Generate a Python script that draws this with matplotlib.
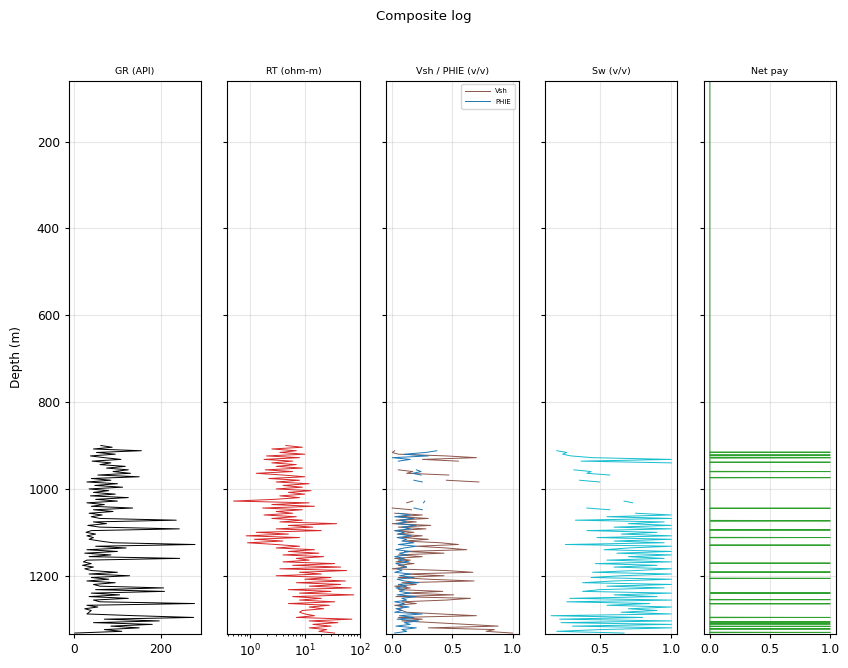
import numpy as np
import matplotlib.pyplot as plt

nan = np.nan

# depth samples of the logged interval (m), every 4 m from 900 to 1332
depth = np.arange(900, 1336, 4)

gr = [62, 88, 45, 155, 52, 95, 38, 70, 108, 42,
      85, 60, 118, 75, 125, 90, 130, 55, 150, 40,
      85, 30, 100, 48, 112, 35, 80, 45, 95, 38,
      125, 50, 100, 30, 70, 40, 135, 45, 90, 35,
      65, 40, 60, 235, 45, 75, 32, 60, 242, 40,
      28, 50, 30, 45, 35, 60, 90, 278, 50, 120,
      30, 100, 25, 85, 35, 243, 30, 22, 40, 20,
      45, 25, 40, 100, 35, 128, 40, 80, 30, 95,
      45, 60, 206, 50, 208, 40, 105, 35, 125, 45,
      60, 277, 30, 55, 25, 40, 35, 30, 140, 275,
      70, 196, 45, 180, 85, 150, 70, 110, 2]

rt = [4.5, 9, 2.5, 7, 3.5, 10, 2, 8, 1.8, 6,
      2.5, 7, 3, 9, 1.9, 6, 1.3, 4, 10, 2.2,
      8, 3, 12, 4, 9, 3, 13, 5, 10, 3.5,
      8, 2.8, 0.5, 12, 2.5, 15, 1.7, 9, 3, 6,
      1.8, 7, 2.5, 9, 3.5, 38, 5, 14, 3, 20,
      1.3, 5, 0.85, 8, 1.2, 4, 0.9, 3, 8, 3,
      15, 5, 18, 4, 22, 7, 12, 4, 35, 6,
      45, 3.5, 58, 8, 20, 3, 30, 10, 55, 7,
      45, 12, 70, 5, 30, 8, 78, 6, 20, 8,
      35, 5, 28, 12, 22, 9, 8, 10, 15, 7,
      72, 12, 40, 14, 30, 12, 25, 18, 35]

vsh = [nan, nan, nan, 0.02, 0.0, 0.05, 0.45, 0.70, 0.25, 0.55,
       nan, nan, nan, nan, 0.05, 0.17, 0.12, 0.47, nan, nan,
       0.45, 0.72, nan, nan, nan, nan, nan, nan, nan, nan,
       nan, nan, 0.17, 0.12, nan, nan, 0.0, 0.16, nan, 0.02,
       0.25, 0.05, 0.3, 0.03, 0.2, 0.0, 0.32, 0.05, 0.28, 0.02,
       0.18, 0.04, 0.25, 0.08, 0.3, 0.1, 0.4, 0.55, 0.2, 0.45,
       0.62, 0.1, 0.43, 0.05, 0.25, 0.02, 0.15, 0.03, 0.18, 0.05,
       0.12, 0.0, 0.45, 0.67, 0.1, 0.43, 0.05, 0.3, 0.68, 0.08,
       0.2, 0.02, 0.15, 0.05, 0.42, 0.1, 0.51, 0.03, 0.65, 0.45,
       0.08, 0.2, 0.02, 0.1, 0.05, 0.08, 0.12, 0.4, 0.7, 0.05,
       0.25, 0.08, 0.35, 0.62, 0.88, 0.3, 0.85, 0.78, 1.0]

phie = [nan, nan, nan, 0.37, 0.28, 0.1, 0.3, 0.0, 0.15, 0.05,
        nan, nan, nan, nan, 0.2, 0.24, 0.17, 0.24, nan, nan,
        0.18, 0.25, nan, nan, nan, nan, nan, nan, nan, nan,
        nan, nan, 0.27, 0.26, nan, nan, 0.18, 0.25, nan, 0.05,
        0.15, 0.02, 0.18, 0.06, 0.12, 0.03, 0.2, 0.08, 0.15, 0.02,
        0.1, 0.05, 0.16, 0.04, 0.12, 0.08, 0.18, 0.05, 0.2, 0.1,
        0.03, 0.15, 0.06, 0.12, 0.02, 0.1, 0.05, 0.14, 0.03, 0.09,
        0.12, 0.04, 0.08, 0.02, 0.15, 0.06, 0.18, 0.04, 0.1, 0.22,
        0.05, 0.12, 0.03, 0.1, 0.06, 0.15, 0.04, 0.2, 0.08, 0.12,
        0.02, 0.1, 0.05, 0.14, 0.03, 0.08, 0.02, 0.25, 0.06, 0.18,
        0.04, 0.22, 0.1, 0.15, 0.03, 0.2, 0.08, 0.12, 0.02]

sw = [nan, nan, nan, 0.20, 0.27, 0.24, 0.30, 0.45, 1.0, 0.37,
      1.0, nan, nan, nan, 0.32, 0.44, 0.41, 0.57, nan, nan,
      0.36, 0.50, nan, nan, nan, nan, nan, nan, nan, nan,
      nan, nan, 0.67, 0.73, nan, nan, 0.41, 0.57, nan, 0.75,
      1.0, 0.55, 1.0, 0.33, 0.95, 0.7, 1.0, 0.6, 1.0, 0.41,
      0.9, 0.65, 1.0, 0.48, 1.0, 0.6, 0.95, 0.26, 1.0, 0.7,
      0.53, 1.0, 0.62, 1.0, 0.7, 0.95, 0.55, 1.0, 0.47, 0.9,
      0.6, 1.0, 0.75, 0.45, 1.0, 0.65, 0.44, 1.0, 0.6, 0.38,
      1.0, 0.55, 0.95, 0.5, 0.38, 1.0, 0.6, 0.9, 0.29, 1.0,
      0.27, 0.85, 0.55, 1.0, 0.7, 0.9, 0.65, 1.0, 0.16, 0.8,
      0.22, 1.0, 0.23, 1.0, 0.31, 1.0, 0.5, 0.2, 0.67]

# depths (m) flagged as net pay
pay_depths = [915.5, 922, 927.5, 928, 928.5, 938.5, 960, 974,
              1044.5, 1073, 1073.5, 1074, 1094.5, 1112, 1129.5,
              1171, 1191.5, 1206, 1239, 1239.5, 1240, 1240.5,
              1255, 1264.5, 1296, 1306.5, 1311, 1316.5, 1322.5, 1330.5]

# net pay flag over the whole well, 0.5 m sampling
pay_grid = np.arange(60, 1334.5, 0.5)
net_pay = np.isin(pay_grid, pay_depths).astype(float)

plt.rcParams['font.size'] = 8.7
plt.rcParams['xtick.major.size'] = 3
plt.rcParams['ytick.major.size'] = 3
plt.rcParams['xtick.minor.size'] = 1.7
plt.rcParams['axes.linewidth'] = 0.8

fig, axes = plt.subplots(1, 5, figsize=(8.48, 6.68), sharey=True)
fig.subplots_adjust(left=0.081, right=0.986, top=0.879, bottom=0.051, wspace=0.2)

lw = 0.7
axes[0].plot(gr, depth, color='black', linewidth=lw)
axes[0].set_title('GR (API)', fontsize=6.8, pad=5)

axes[1].plot(rt, depth, color='tab:red', linewidth=lw)
axes[1].set_xscale('log')
axes[1].set_title('RT (ohm-m)', fontsize=6.8, pad=5)

axes[2].plot(vsh, depth, color='tab:brown', linewidth=lw, label='Vsh')
axes[2].plot(phie, depth, color='tab:blue', linewidth=lw, label='PHIE')
axes[2].set_title('Vsh / PHIE (v/v)', fontsize=6.8, pad=5)
axes[2].legend(loc='upper right', fontsize=5, handlelength=3.5, borderpad=0.6,
               labelspacing=0.6)

axes[3].plot(sw, depth, color='tab:cyan', linewidth=lw)
axes[3].set_title('Sw (v/v)', fontsize=6.8, pad=5)

axes[4].plot(net_pay, pay_grid, color='tab:green', linewidth=lw)
axes[4].set_title('Net pay', fontsize=6.8, pad=5)

for ax in axes:
    ax.grid(True, alpha=0.3)

axes[0].set_ylim(1334, 60)
axes[0].set_ylabel('Depth (m)')

fig.suptitle('Composite log', fontsize=9.5, y=0.985)

plt.savefig('out.png', dpi=100)
